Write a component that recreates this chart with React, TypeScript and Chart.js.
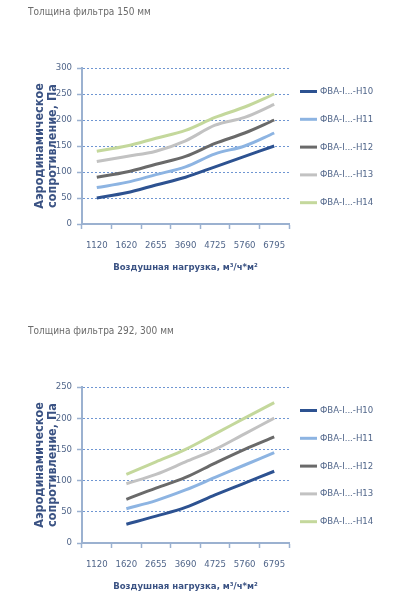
import React, { useEffect, useRef } from 'react';
import { Chart, registerables } from 'chart.js';

Chart.register(...registerables);

// Air load categories, m³/h per m²
const loads = ['1120', '1620', '2655', '3690', '4725', '5760', '6795'];

const seriesNames = ['ФВА-І...-Н10', 'ФВА-І...-Н11', 'ФВА-І...-Н12', 'ФВА-І...-Н13', 'ФВА-І...-Н14'];
const seriesColors = ['#2d5291', '#8db4e2', '#6a6a6a', '#c2c2c2', '#c4d89c'];

// Filter thickness 150 mm, pressure drop, Pa
const h10Thin = [50, 60, 75, 90, 110, 130, 150];
const h11Thin = [70, 80, 95, 110, 135, 150, 175];
const h12Thin = [90, 100, 115, 130, 155, 175, 200];
const h13Thin = [120, 130, 140, 160, 190, 205, 230];
const h14Thin = [140, 150, 165, 180, 205, 225, 250];

// Filter thickness 292 / 300 mm, pressure drop, Pa (no value at 1120)
const h10Thick = [null, 30, 43, 57, 77, 96, 115];
const h11Thick = [null, 55, 68, 85, 105, 125, 145];
const h12Thick = [null, 70, 88, 105, 128, 150, 170];
const h13Thick = [null, 95, 110, 130, 150, 175, 200];
const h14Thick = [null, 110, 130, 150, 175, 200, 225];

const yMaxThin = 300;
const yMaxThick = 250;
const yStep = 50;

const FONT = "'DejaVu Sans Condensed', 'Liberation Sans Narrow', 'Liberation Sans', sans-serif";
const AXIS_COLOR = '#9bb1d0';
const GRID_COLOR = '#6f96d2';
const LABEL_COLOR = '#51668a';
const TITLE_COLOR = '#3a5283';

type Series = (number | null)[];

// Series key drawn as a column to the right of the plot area
const sideLegend = {
  id: 'sideLegend',
  afterDraw(chart: any) {
    const { ctx, chartArea } = chart;
    const x0 = chartArea.right + 11;
    const y0 = chartArea.top + 23.5;
    const step = 27.8;
    ctx.save();
    ctx.font = `9.5px ${FONT}`;
    ctx.textBaseline = 'middle';
    ctx.textAlign = 'left';
    chart.data.datasets.forEach((ds: any, i: number) => {
      const y = y0 + i * step;
      ctx.strokeStyle = ds.borderColor;
      ctx.lineWidth = 3;
      ctx.beginPath();
      ctx.moveTo(x0, y);
      ctx.lineTo(x0 + 17, y);
      ctx.stroke();
      ctx.fillStyle = LABEL_COLOR;
      ctx.fillText(ds.label, x0 + 20, y);
    });
    ctx.restore();
  },
};

function PressureChart({ title, yMax, series }: { title: string; yMax: number; series: Series[] }) {
  const ref = useRef<HTMLCanvasElement | null>(null);

  useEffect(() => {
    if (!ref.current) return;
    const chart = new Chart(ref.current, {
      type: 'line',
      data: {
        labels: loads,
        datasets: series.map((values, i) => ({
          label: seriesNames[i],
          data: values,
          borderColor: seriesColors[i],
          backgroundColor: seriesColors[i],
          borderWidth: 3,
          pointRadius: 0,
          pointHoverRadius: 0,
          tension: 0.35,
          fill: false,
        })),
      },
      plugins: [sideLegend],
      options: {
        animation: false,
        responsive: false,
        events: [],
        layout: { padding: { left: 28, right: 111, top: 0, bottom: 0 } },
        plugins: {
          tooltip: { enabled: false },
          legend: { display: false },
          title: {
            display: true,
            text: title,
            align: 'start',
            color: '#6b6b6b',
            font: { family: FONT, size: 10, weight: 'normal', lineHeight: 1.2 },
            padding: { top: 6, bottom: 50 },
          },
        },
        scales: {
          x: {
            type: 'category',
            offset: true,
            border: { display: true, color: AXIS_COLOR, width: 2 },
            grid: {
              display: true,
              offset: true,
              drawOnChartArea: false,
              drawTicks: true,
              tickLength: 5,
              color: AXIS_COLOR,
              tickColor: AXIS_COLOR,
              tickWidth: 1.5,
            },
            ticks: {
              color: LABEL_COLOR,
              font: { family: FONT, size: 9.5 },
              padding: 11,
              maxRotation: 0,
              autoSkip: false,
            },
            title: {
              display: true,
              text: 'Воздушная нагрузка, м³/ч*м²',
              color: TITLE_COLOR,
              font: { family: FONT, size: 9.5, weight: 'bold' },
              padding: { top: 0, bottom: 8.5 },
            },
            afterFit: (s: any) => {
              s.height = 58;
            },
          },
          y: {
            min: 0,
            max: yMax,
            border: { display: true, color: AXIS_COLOR, width: 2, dash: [2, 2] },
            grid: {
              display: true,
              color: GRID_COLOR,
              lineWidth: 1,
              drawTicks: true,
              tickLength: 5,
              tickColor: AXIS_COLOR,
              tickBorderDash: [],
              tickWidth: 1.5,
            },
            ticks: {
              stepSize: yStep,
              color: LABEL_COLOR,
              font: { family: FONT, size: 9.5 },
              padding: 5,
            },
            title: {
              display: true,
              text: ['Аэродинамическое', 'сопротивление, Па'],
              color: TITLE_COLOR,
              font: { family: FONT, size: 12.5, weight: 'bold', lineHeight: 1.1 },
              padding: { top: 4.5, bottom: 0 },
            },
            afterFit: (s: any) => {
              s.width = 54;
            },
          },
        },
      },
    });
    return () => chart.destroy();
  }, [title, yMax, series]);

  return <canvas ref={ref} width={400} height={282} style={{ display: 'block', width: 400, height: 282 }} />;
}

const thinSeries = [h10Thin, h11Thin, h12Thin, h13Thin, h14Thin];
const thickSeries = [h10Thick, h11Thick, h12Thick, h13Thick, h14Thick];

export default function App() {
  return (
    <div style={{ position: 'fixed', left: 0, top: 0, width: 400, height: 600, background: '#fff' }}>
      <div style={{ position: 'absolute', left: 0, top: 0 }}>
        <PressureChart title="Толщина фильтра 150 мм" yMax={yMaxThin} series={thinSeries} />
      </div>
      <div style={{ position: 'absolute', left: 0, top: 319 }}>
        <PressureChart title="Толщина фильтра 292, 300 мм" yMax={yMaxThick} series={thickSeries} />
      </div>
    </div>
  );
}
